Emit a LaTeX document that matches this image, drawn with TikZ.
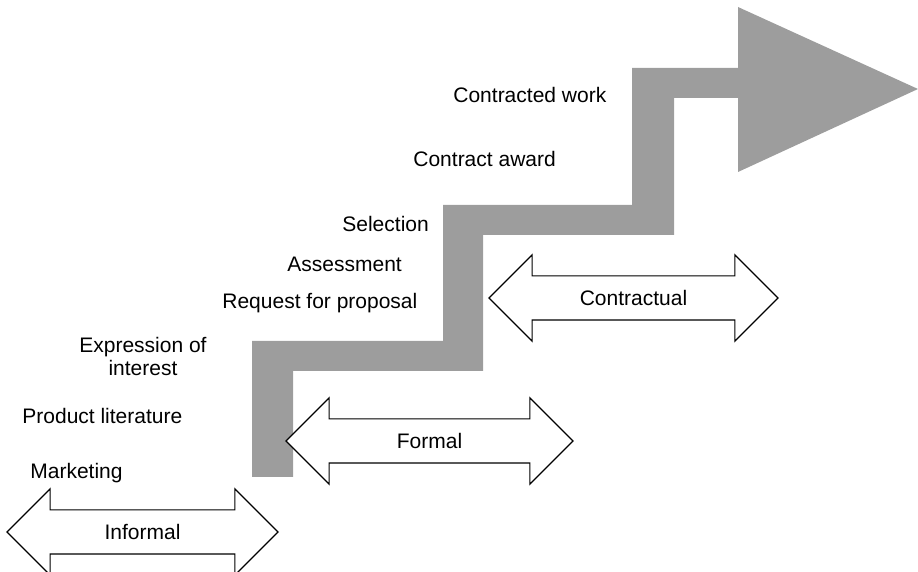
\documentclass[tikz,border=0pt]{standalone}
\usepackage{fontspec}
\setmainfont{Liberation Sans}
\usetikzlibrary{shapes.arrows}
\definecolor{stairgray}{RGB}{157,157,157}
\tikzset{
  stage/.style={anchor=base west, inner sep=0pt, font=\fontsize{10.5}{11.5}\selectfont},
  phase/.style={double arrow, draw, line width=0.6pt, fill=white, double arrow head extend=10.5pt,
    inner sep=0pt, text height=14.5pt, text depth=7pt, font=\fontsize{10.5}{11.5}\selectfont}
}

\begin{document}
\begin{tikzpicture}[x=0.5pt, y=-0.5pt]
  \useasboundingbox (0,0) rectangle (918,572);

  % the rising staircase with its big head
  \fill[stairgray] (252,477) |- (443,341) |- (632,205) |- (738,68) -- (738,7) -- (918,89)
    -- (738,172) -- (738,98) -| (674,235) -| (483,371) -| (293,477) -- cycle;

  % steps of the procurement
  \node[stage] (mkt) at (30,479) {Marketing};
  \node[stage] (lit) at (22,424) {Product literature};
  \node[stage, anchor=base, align=center] (eoi) at (143,376) {Expression of\\interest};
  \node[stage] (rfp) at (222,309) {Request for proposal};
  \node[stage] (assess) at (287,272) {Assessment};
  \node[stage] (select) at (342,232) {Selection};
  \node[stage] (award) at (413,167) {Contract award};
  \node[stage] (work) at (453,103) {Contracted work};

  % relationship phases
  \node[phase, minimum height=135.5pt] (informal) at (142.5,532) {Informal};
  \node[phase, minimum height=143.5pt] (formal) at (429.5,441) {Formal};
  \node[phase, minimum height=144.5pt] (contractual) at (633.5,298) {Contractual};
\end{tikzpicture}
\end{document}
